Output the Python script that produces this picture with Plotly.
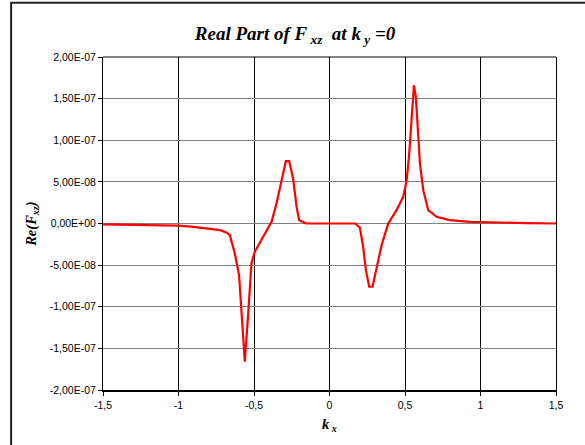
import plotly.graph_objects as go

# Data
kx = [-1.5, -1.2, -1.0, -0.9, -0.8, -0.725, -0.68, -0.66, -0.627, -0.599, -0.579, -0.561,
      -0.539, -0.517, -0.495, -0.45, -0.407, -0.384, -0.351, -0.318, -0.289, -0.267,
      -0.241, -0.218, -0.201, -0.152, -0.1, 0.0, 0.1, 0.17, 0.201, 0.223, 0.241, 0.263,
      0.285, 0.312, 0.345, 0.389, 0.444, 0.488, 0.511, 0.528, 0.544, 0.559, 0.572,
      0.583, 0.599, 0.621, 0.654, 0.709, 0.797, 0.93, 1.1, 1.3, 1.5]
re_fxz_e8 = [-0.1, -0.15, -0.25, -0.4, -0.6, -0.8, -1.1, -1.4, -3.6, -6.2, -11.6, -16.6,
             -11.0, -4.8, -3.4, -2.0, -0.6, 0.2, 2.4, 5.0, 7.5, 7.5,
             5.4, 2.0, 0.4, 0.0, 0.0, 0.0, 0.0, 0.0, -0.5, -2.8, -5.6, -7.6,
             -7.6, -5.2, -2.6, 0.0, 1.6, 3.2, 5.2, 8.4, 12.4, 16.6, 15.2,
             11.4, 7.2, 4.0, 1.6, 0.8, 0.4, 0.2, 0.1, 0.05, 0.0]
re_fxz = [v * 1e-8 for v in re_fxz_e8]

x_tickvals = [-1.5, -1.0, -0.5, 0.0, 0.5, 1.0, 1.5]
x_ticktext = ["-1,5", "-1", "-0,5", "0", "0,5", "1", "1,5"]
y_tickvals = [2e-7, 1.5e-7, 1e-7, 5e-8, 0.0, -5e-8, -1e-7, -1.5e-7, -2e-7]
y_ticktext = ["2,00E-07", "1,50E-07", "1,00E-07", "5,00E-08", "0,00E+00",
              "-5,00E-08", "-1,00E-07", "-1,50E-07", "-2,00E-07"]

W, H = 585, 445
L, R, T, B = 103.3, 29, 56.7, 55
pw, ph = W - L - R, H - T - B

def px(xp):
    return (xp - L) / pw

def py(yp):
    return (H - B - yp) / ph

fig = go.Figure()
fig.add_trace(go.Scatter(x=kx, y=re_fxz, mode="lines",
                         line=dict(color="#ff0000", width=2.2), showlegend=False,
                         hoverinfo="skip"))

tickfont = dict(family="Liberation Sans, Arial, sans-serif", size=10.5, color="black")
serif = "Liberation Serif, Times New Roman, serif"
fig.update_layout(
    width=W, height=H,
    margin=dict(l=L, r=R, t=T, b=B, pad=0),
    paper_bgcolor="white", plot_bgcolor="white",
    title=dict(text="<b><i>Real Part of F<sub> xz</sub>  at k<sub> y</sub> =0</i></b>",
               font=dict(family=serif, size=19, color="black"),
               x=295 / W, xanchor="center", y=1 - 33 / H, yanchor="middle"),
    xaxis=dict(range=[-1.5, 1.5], tickvals=x_tickvals, ticktext=x_ticktext,
               showgrid=True, gridcolor="black", gridwidth=1, zeroline=False,
               showline=True, linecolor="black", linewidth=2,
               ticks="outside", ticklen=4, tickcolor="black", tickfont=tickfont),
    yaxis=dict(range=[-2e-7, 2e-7], tickvals=y_tickvals, ticktext=y_ticktext,
               showgrid=True, gridcolor="#808080", gridwidth=1, zeroline=False,
               showline=True, linecolor="black", linewidth=1, mirror=True,
               ticks="outside", ticklen=4, tickcolor="black", tickfont=tickfont),
    shapes=[
        dict(type="line", xref="paper", yref="paper", x0=0, x1=1, y0=1, y1=1,
             line=dict(color="black", width=1)),
        dict(type="rect", xref="paper", yref="paper", x0=px(11.5), x1=px(W + 20),
             y0=py(H + 20), y1=py(2.5), line=dict(color="#222222", width=2),
             fillcolor="rgba(0,0,0,0)", layer="above"),
    ],
    annotations=[
        dict(text="<b><i>Re(F<sub>xz</sub>)</i></b>", xref="paper", yref="paper",
             x=px(32), y=py(224), xanchor="center", yanchor="middle", showarrow=False,
             textangle=-90,
             font=dict(family=serif, size=14.5, color="black")),
        dict(text="<b><i>k<sub> x</sub></i></b>", xref="paper", yref="paper",
             x=px(330), y=py(425), xanchor="center", yanchor="middle", showarrow=False,
             font=dict(family=serif, size=14.5, color="black")),
    ],
)

fig.write_html("out.html", config={"displayModeBar": False},
               post_script="document.body.style.margin='0';document.body.style.padding='0';")
